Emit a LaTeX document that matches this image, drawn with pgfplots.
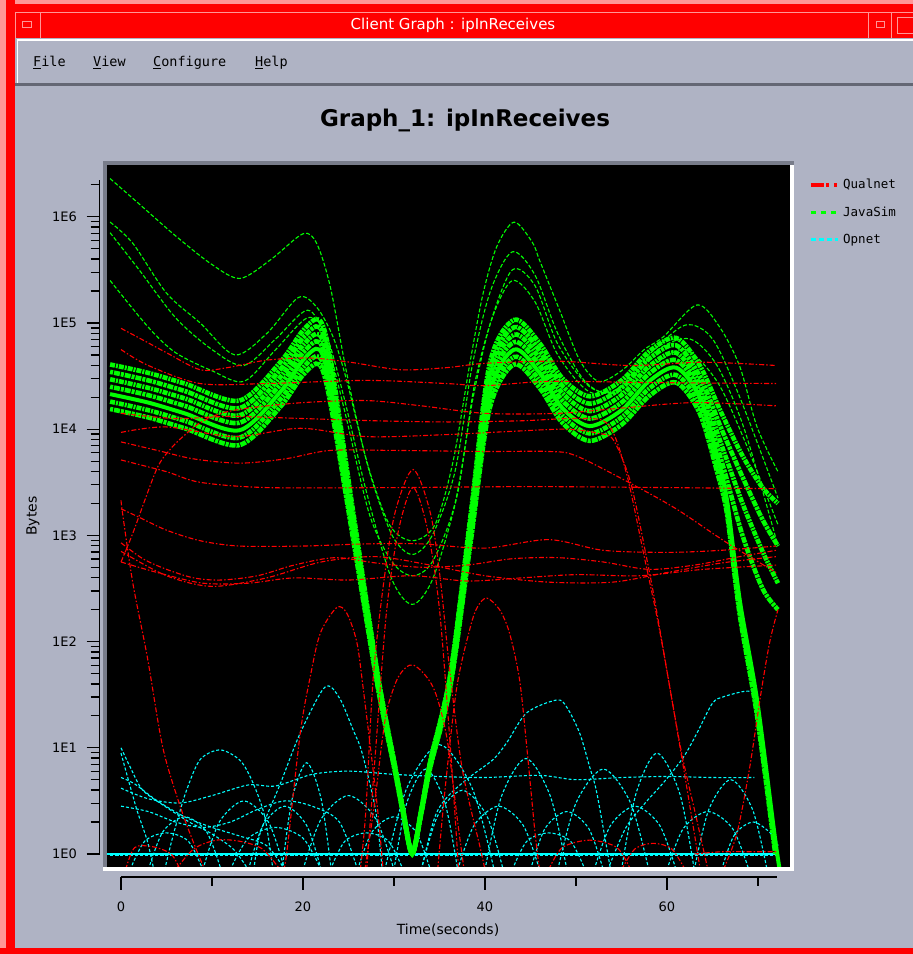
\documentclass[border=0pt]{standalone}
\usepackage{fontspec}
\setmainfont{DejaVu Sans}
\newfontfamily\monofont{DejaVu Sans Mono}
\usepackage{pgfplots}
\pgfplotsset{compat=1.18}
\definecolor{winbg}{RGB}{175,179,196}
\definecolor{winred}{RGB}{255,0,0}
\definecolor{winpink}{RGB}{255,150,150}
\definecolor{menudark}{RGB}{100,103,116}
\definecolor{bevel}{RGB}{120,124,138}
\definecolor{qred}{RGB}{255,0,0}
\definecolor{jgreen}{RGB}{0,255,0}
\definecolor{ocyan}{RGB}{0,255,255}
\pgfplotsset{
  qual/.style={qred, line width=1.1pt, dash pattern=on 5pt off 2pt on 1.5pt off 2pt, smooth},
  java/.style={jgreen, line width=1.1pt, dash pattern=on 4pt off 2pt, smooth},
  band/.style={jgreen, line width=4.6pt, dash pattern=on 5pt off 1pt on 2pt off 1pt, smooth},
  bandb/.style={jgreen, line width=4.6pt, dash pattern=on 3pt off 1pt on 6pt off 1pt, smooth},
  opn/.style={ocyan, line width=1.1pt, dash pattern=on 3pt off 2pt, smooth},
  every outer x axis line/.append style={-},
  every outer y axis line/.append style={-},
  every inner x axis line/.append style={-},
  every inner y axis line/.append style={-},
}
\begin{document}
\begin{tikzpicture}[x=1pt,y=1pt]
\useasboundingbox (0,0) rectangle (913,954);
% ---------- window chrome ----------
\fill[winbg] (0,0) rectangle (913,954);
\fill[winred] (0,916) rectangle (913,954);
\fill[winpink] (0,950) rectangle (913,954);
\fill[winred] (6,0) rectangle (15,954);
\fill[winpink] (0,0) rectangle (6,954);
\fill[winred] (0,0) rectangle (913,6);
\draw[winpink, line width=1pt] (15,941.5) -- (913,941.5);
\draw[winpink, line width=1pt] (15,916) -- (15,941.5);
\draw[winpink, line width=1pt] (40,916) -- (40,941.5);
\draw[winpink, line width=0.8pt] (22,927) rectangle (31,933);
\draw[winpink, line width=1pt] (868,916) -- (868,941.5);
\draw[winpink, line width=1pt] (891,916) -- (891,941.5);
\draw[winpink, line width=0.8pt] (876,927) rectangle (884,933);
\draw[winpink, line width=0.8pt] (897,921) rectangle (913,937);
\node[text=white, font=\fontsize{15}{17}\selectfont] at (453,929) {Client Graph : ipInReceives};
% menu bar
\fill[winbg] (15,870) rectangle (913,915);
\draw[white, line width=1.5pt] (17,914.2) -- (913,914.2);
\draw[white, line width=1.5pt] (17.7,870) -- (17.7,914.2);
\fill[menudark] (15,868) rectangle (913,871);
\begin{scope}[every node/.style={anchor=base west, font=\monofont\fontsize{13.5}{15}\selectfont, inner sep=0pt}]
\node at (33,887.5) {\underline{F}ile};
\node at (93,887.5) {\underline{V}iew};
\node at (153,887.5) {\underline{C}onfigure};
\node at (255,887.5) {\underline{H}elp};
\end{scope}
% plot area
\fill[bevel] (103,87) rectangle (107,793);
\fill[bevel] (103,789) rectangle (794,793);
\fill[white] (790,83) rectangle (794,789);
\fill[white] (103,83) rectangle (794,87);
\fill[black] (107,87) rectangle (790,789);
% ---------- main axis ----------
\begin{axis}[
  at={(107pt,87pt)}, anchor=south west,
  scale only axis, width=683pt, height=702pt,
  xmin=-1.54, xmax=73.52, ymode=log, ymin=0.7545, ymax=3.074e6,
  hide axis, clip=true,
  legend style={at={(1.0278,0.985)}, anchor=north west, draw=none, fill=none,
    font=\monofont\fontsize{12.5}{14}\selectfont, row sep=9.5pt, inner sep=0pt,
    nodes={inner sep=3.5pt}},
  legend cell align=left,
  legend image code/.code={\draw[#1] (0pt,0pt) -- (27pt,0pt);},
]
\addlegendimage{qred, line width=3.5pt, dash pattern=on 13pt off 2.5pt on 3pt off 4.5pt on 3pt off 10pt}
\addlegendimage{jgreen, line width=3.5pt, dash pattern=on 5pt off 5pt}
\addlegendimage{ocyan, line width=3.5pt, dash pattern=on 5pt off 3pt}
\legend{Qualnet,JavaSim,Opnet}
% ===== Opnet (cyan) =====
\addplot[ocyan, line width=1.6pt] coordinates {(-1.5,1) (72.2,1)};
\addplot[opn] coordinates {(-1.2,0.96) (72.2,0.96)};
\addplot[opn] coordinates {(14.6,0.71) (15.3,1.58) (17.5,4.57) (19.7,13.8) (22.4,37.2) (24,29.5) (25.5,14.8) (26.5,8.91) (28,2.51) (28.7,0.71)};
\addplot[opn] coordinates {(33,0.71) (34.5,2.24) (36,3.55) (38.4,5.37) (40.9,7.76) (42.4,11.2) (44.6,21.4) (47.9,28.2) (49,24.0) (50.4,13.8) (51.5,6.61) (52.3,3.72) (53.8,0.71)};
\addplot[opn] coordinates {(0,4.17) (3,3.31) (6.5,3.02) (10,3.55) (14,4.47) (17,4.37) (21,5.62) (25,6.03) (30,5.62) (35,5.37) (40,5.25) (46,5.50) (50,5.01) (55,5.25) (60,5.37) (65,5.25) (69.6,5.25)};
\addplot[opn] coordinates {(53.5,0.71) (55.5,1.78) (57.8,3.16) (59.6,4.68) (61.8,8.13) (63.3,13.8) (65,26.3) (66.2,30.2) (68.4,33.9) (69.6,33.9)};
\addplot[opn] coordinates {(4.8,0.71) (5.5,1.26) (6.2,2.09) (7.2,3.98) (8.7,7.76) (10.9,9.55) (13.1,7.59) (14.5,4.68) (15.8,2.24) (16.7,0.71)};
\addplot[opn] coordinates {(0,10) (1,6.61) (2.4,3.98) (5,2.75) (7.5,2.0) (9.8,1.58) (12.3,1.12) (14,0.71)};
\addplot[opn] coordinates {(0,5.25) (1.5,4.57) (4,3.16) (7,2.24) (10,1.78) (13,1.48) (16,1.20) (18,0.71)};
\addplot[opn] coordinates {(0,8.91) (0.8,5.01) (1.8,2.51) (2.9,1.32) (3.6,0.71)};
\addplot[opn] coordinates {(0,2.82) (3,2.51) (6,2.0) (9,1.78) (12,2.0) (15,2.63) (18,3.16) (21,2.82) (24,2.0) (26,0.71)};
\addplot[opn] coordinates {(3,0.71) (4.6,1.62) (7,2.24) (9.4,1.62) (11,0.71)};
\addplot[opn] coordinates {(9,0.71) (10.8,2.0) (13.5,3.16) (16.2,2.0) (18,0.71)};
\addplot[opn] coordinates {(17.7,0.71) (18.8,3.28) (20.4,7.24) (22.0,3.28) (23.1,0.71)};
\addplot[opn] coordinates {(20,0.71) (22,2.14) (25,3.55) (28,2.14) (30,0.71)};
\addplot[opn] coordinates {(26,0.71) (27.6,1.62) (30,2.24) (32.4,1.62) (34,0.71)};
\addplot[opn] coordinates {(29,0.71) (31.4,4.15) (35,10.7) (38.6,4.15) (41,0.71)};
\addplot[opn] coordinates {(33,0.71) (34.8,2.29) (37.5,3.98) (40.2,2.29) (42,0.71)};
\addplot[opn] coordinates {(37,0.71) (38.8,1.86) (41.5,2.82) (44.2,1.86) (46,0.71)};
\addplot[opn] coordinates {(40,0.71) (41.8,3.47) (44.5,7.94) (47.2,3.47) (49,0.71)};
\addplot[opn] coordinates {(45,0.71) (46.6,1.74) (49,2.51) (51.4,1.74) (53,0.71)};
\addplot[opn] coordinates {(48,0.71) (50,3.02) (53,6.31) (56,3.02) (58,0.71)};
\addplot[opn] coordinates {(52,0.71) (53.8,1.86) (56.5,2.82) (59.2,1.86) (61,0.71)};
\addplot[opn] coordinates {(55,0.71) (56.6,3.72) (58.9,8.91) (61.4,3.72) (63,0.71)};
\addplot[opn] coordinates {(60,0.71) (61.8,1.74) (64.5,2.51) (67.2,1.74) (69,0.71)};
\addplot[opn] coordinates {(63,0.71) (64.6,2.63) (67,5.01) (69.4,2.63) (71,0.71)};
\addplot[opn] coordinates {(66,0.71) (67.4,1.51) (69.5,2.0) (71.6,1.51) (72.2,1.2)};
\addplot[opn] coordinates {(1,0.71) (2.6,1.32) (5,1.58) (7.4,1.32) (9,0.71)};
\addplot[opn] coordinates {(12,0.71) (14,1.41) (17,1.78) (20,1.41) (22,0.71)};
\addplot[opn] coordinates {(23,0.71) (24.6,1.32) (27,1.58) (29.4,1.32) (31,0.71)};
\addplot[opn] coordinates {(43,0.71) (44.6,1.32) (47,1.58) (49.4,1.32) (51,0.71)};
\addplot[opn] coordinates {(30,0.71) (31.4,3.02) (33.5,6.31) (35.6,3.02) (37,0.71)};
\addplot[opn] coordinates {(14,0.71) (15.6,1.86) (18,2.82) (20.4,1.86) (22,0.71)};
% ===== JavaSim (green) outer curves =====
\addplot[java] coordinates {(-1.2,2.29e6) (2,1.32e6) (6,6.61e5) (10,3.55e5) (13.1,2.63e5) (16.5,3.98e5) (20,6.92e5) (21.5,5.62e5) (23,2.19e5) (24.8,3.39e4) (27,5.01e3) (29.5,1.26e3) (32,891) (34.5,1.26e3) (36.5,5.01e3) (38.4,4.47e4) (39.8,1.91e5) (41.3,5.25e5) (43.2,8.91e5) (45.2,5.75e5) (46,3.89e5) (48.2,1.32e5) (50.4,4.47e4) (52.5,2.82e4) (55,3.55e4) (57.5,5.62e4) (59.6,7.41e4) (63.3,1.48e5) (65.8,9.12e4) (68,3.89e4) (69.9,1.05e4) (72.2,3.98e3)};
\addplot[java] coordinates {(-1.2,8.91e5) (1.3,5.62e5) (5,1.91e5) (8.7,1.0e5) (12.5,5.01e4) (16,7.94e4) (19.5,1.74e5) (21.5,1.41e5) (23.3,7.41e4) (24.8,2.88e4) (27.3,3.98e3) (29.8,1.0e3) (32,661) (34.2,1.0e3) (36.7,3.98e3) (38.6,3.98e4) (40.6,2.0e5) (43,4.68e5) (45.5,2.82e5) (48,7.94e4) (51,2.82e4) (54,2.24e4) (58,5.01e4) (62,9.55e4) (65,7.08e4) (68,2.0e4) (72.2,2.24e3)};
\addplot[java] coordinates {(-1.2,2.51e5) (3,9.12e4) (6,5.25e4) (10,3.55e4) (13.5,2.82e4) (17,5.62e4) (20.5,1.12e5) (22.5,7.94e4) (24.5,2.0e4) (27,2.51e3) (29.7,398) (32,224) (34.3,398) (37,2.51e3) (38.8,2.51e4) (40.8,1.12e5) (43,2.51e5) (45.5,1.58e5) (48,5.01e4) (51.5,2.24e4) (55,2.51e4) (59,5.62e4) (62.5,7.08e4) (65.5,3.98e4) (68.5,1.0e4) (72.2,794)};
\addplot[java] coordinates {(-1.2,7.08e5) (2,3.16e5) (6,1.12e5) (10,5.62e4) (13.5,3.98e4) (17,7.08e4) (20.5,1.32e5) (22.5,7.08e4) (24.5,1.58e4) (27.3,1.58e3) (29.8,562) (32,417) (34.2,562) (36.7,2.0e3) (38.7,2.0e4) (40.6,1.0e5) (43,3.16e5) (45.5,2.24e5) (48,6.31e4) (51.5,2.51e4) (55,2.24e4) (58.5,3.98e4) (62,5.62e4) (65.5,2.82e4) (68.5,7.94e3) (72.2,1.26e3)};
% ===== JavaSim band =====
\addplot[band] coordinates {(-1.2,4.07e4) (3,3.39e4) (7,2.69e4) (13,1.86e4) (17.5,4.27e4) (20,8.51e4) (21.8,1.07e5) (23,4.68e4) (25.5,1.70e3) (28.2,50.1) (30,7.59) (31,2.63) (32,1.02) (33,2.63) (34,7.59) (36.2,50.1) (38.4,1.51e3) (40.5,4.07e4) (43.2,1.07e5) (46,6.46e4) (48.5,3.02e4) (51.5,2.04e4) (55,2.88e4) (58,5.37e4) (61,7.24e4) (63.6,3.98e4) (66,1.41e4) (68.3,5.62e3) (70.5,2.82e3) (72.2,2.0e3)};
\addplot[bandb] coordinates {(-1.2,3.47e4) (3,2.88e4) (7,2.29e4) (13,1.58e4) (17.5,3.63e4) (20,7.24e4) (21.8,9.12e4) (23,3.98e4) (25.5,1.51e3) (28.2,47.9) (30,7.41) (31,2.57) (32,1.02) (33,2.57) (34,7.41) (36.2,47.9) (38.4,1.35e3) (40.5,3.47e4) (43.2,9.12e4) (46,5.50e4) (48.5,2.57e4) (51.5,1.74e4) (55,2.45e4) (58,4.57e4) (61,6.17e4) (63.6,3.16e4) (66,1.0e4) (68.3,3.55e3) (70.5,1.41e3) (72.2,794)};
\addplot[band] coordinates {(-1.2,2.95e4) (3,2.45e4) (7,1.95e4) (13,1.35e4) (17.5,3.09e4) (20,6.17e4) (21.8,7.76e4) (23,3.39e4) (25.5,1.38e3) (28.2,45.7) (30,7.24) (31,2.57) (32,1.0) (33,2.57) (34,7.24) (36.2,45.7) (38.4,1.23e3) (40.5,2.95e4) (43.2,7.76e4) (46,4.68e4) (48.5,2.19e4) (51.5,1.48e4) (55,2.09e4) (58,3.89e4) (61,5.25e4) (63.6,2.63e4) (66,7.08e3) (68.3,2.0e3) (70.5,708) (72.2,355)};
\addplot[bandb] coordinates {(-1.2,2.51e4) (3,2.09e4) (7,1.66e4) (13,1.15e4) (17.5,2.63e4) (20,5.25e4) (21.8,6.61e4) (23,2.88e4) (25.5,1.26e3) (28.2,43.7) (30,7.08) (31,2.51) (32,1.0) (33,2.51) (34,7.08) (36.2,43.7) (38.4,1.12e3) (40.5,2.51e4) (43.2,6.61e4) (46,3.98e4) (48.5,1.86e4) (51.5,1.26e4) (55,1.78e4) (58,3.31e4) (61,4.47e4) (63.6,2.24e4) (66,5.01e3) (68.3,1.0e3) (70.5,316) (72.2,200)};
\addplot[band] coordinates {(-1.2,1.82e4) (3,1.51e4) (7,1.20e4) (13,8.32e3) (17.5,1.91e4) (20,3.80e4) (21.8,4.79e4) (23,2.09e4) (25.5,1.05e3) (28.2,39.8) (30,6.76) (31,2.45) (32,1.0) (33,2.45) (34,6.76) (36.2,39.8) (38.4,933) (40.5,1.82e4) (43.2,4.79e4) (46,2.88e4) (48.5,1.35e4) (51.5,9.12e3) (55,1.29e4) (58,2.40e4) (61,3.24e4) (63.6,1.66e4) (65.5,4.47e3) (66.6,1.78e3) (68,200) (69.9,22.4) (71.9,1.12)};
\addplot[bandb] coordinates {(-1.2,1.55e4) (3,1.29e4) (7,1.02e4) (13,7.08e3) (17.5,1.62e4) (20,3.24e4) (21.8,4.07e4) (23,1.78e4) (25.5,933) (28.2,38.0) (30,6.61) (31,2.40) (32,1.0) (33,2.40) (34,6.61) (36.2,38.0) (38.4,832) (40.5,1.55e4) (43.2,4.07e4) (46,2.45e4) (48.5,1.15e4) (51.5,7.76e3) (55,1.10e4) (58,2.04e4) (61,2.75e4) (63.6,1.41e4) (65.5,3.98e3) (66.6,1.58e3) (68,178) (69.9,20) (71.9,1.0)};
\addplot[jgreen, line width=4pt, smooth] coordinates {(-1.2,2.14e4) (3,1.78e4) (7,1.41e4) (13,9.77e3) (17.5,2.24e4) (20,4.47e4) (21.8,5.62e4) (23,2.45e4) (25.5,1.15e3) (28.2,41.7) (30,6.92) (31,2.45) (32,1.0) (33,2.45) (34,6.92) (36.2,41.7) (38.4,1.02e3) (40.5,2.14e4) (43.2,5.62e4) (46,3.39e4) (48.5,1.58e4) (51.5,1.07e4) (55,1.51e4) (58,2.82e4) (61,3.80e4) (63.6,2.0e4) (65.5,5.62e3) (66.6,2.14e3) (68,245) (69.9,28.2) (71.9,1.35) (72.5,0.63)};
% ===== Qualnet (red) =====
\addplot[qual] coordinates {(0,8.91e4) (2.4,6.92e4) (5,5.25e4) (8.7,3.63e4) (11.7,3.80e4) (16,4.47e4) (20.8,4.68e4) (25.2,4.27e4) (30.7,3.63e4) (35.8,3.80e4) (40,4.17e4) (48,4.37e4) (56,3.98e4) (64,4.27e4) (72,3.98e4)};
\addplot[qual] coordinates {(0,5.62e4) (3,3.98e4) (8.7,2.69e4) (16,2.69e4) (27,2.88e4) (35.8,2.69e4) (40,2.57e4) (47,2.82e4) (58,2.75e4) (72,2.69e4)};
\addplot[qual] coordinates {(0,562) (1.3,1.05e3) (3.9,4.17e3) (5.4,6.46e3) (6.8,8.51e3) (8.7,1.15e4) (11,1.41e4) (14,1.58e4) (20,1.78e4) (27,1.86e4) (33,1.66e4) (40,1.41e4) (48,1.41e4) (55,1.58e4) (63,1.78e4) (72,1.66e4)};
\addplot[qual] coordinates {(0,9.33e3) (5,1.05e4) (12.5,8.51e3) (19.7,1.02e4) (27,8.51e3) (36,8.91e3) (43,9.55e3) (49,1.0e4) (52.5,9.12e3) (54.1,7.94e3) (56,3.16e3) (57.8,589) (58.9,186) (61.8,6.61) (63.6,0.76)};
\addplot[qual] coordinates {(0,5.13e3) (5,3.98e3) (8.7,3.16e3) (16,2.82e3) (30,2.82e3) (45,2.88e3) (60,2.82e3) (72,2.75e3)};
\addplot[qual] coordinates {(0,7.59e3) (4,6.31e3) (8,5.25e3) (13,4.79e3) (18,5.25e3) (23,6.31e3) (30,6.31e3) (40,6.17e3) (47,6.17e3) (50,5.62e3) (56,3.09e3) (61,1.78e3) (66.6,851) (72,447)};
\addplot[qual] coordinates {(0,1.41e4) (6,1.26e4) (12,1.32e4) (20,1.26e4) (28,1.20e4) (36,1.17e4) (44,1.20e4) (50,1.26e4) (53.5,1.12e4) (55.5,3.98e3) (57.5,631) (59.2,126) (61.5,10) (63.2,2.24) (64.5,0.71)};
\addplot[qual] coordinates {(0,1.78e3) (2,1.48e3) (5,1.12e3) (8.7,891) (13,794) (20,794) (27,832) (33,832) (40,759) (47,912) (53,724) (60,692) (66,724) (72,794)};
\addplot[qual] coordinates {(0,851) (2.4,603) (5,479) (8,398) (11,380) (15,417) (19,525) (23.5,617) (28,550) (33,501) (38,525) (43,603) (48,617) (53,562) (58,479) (63,525) (68,631) (72,724)};
\addplot[qual] coordinates {(0,562) (4,447) (9,355) (14,355) (19,398) (25,380) (32,417) (38,372) (44,398) (50,427) (57,417) (64,479) (72,525)};
\addplot[qual] coordinates {(0,708) (5,417) (10,331) (16,398) (22,562) (28,631) (34,525) (40,417) (47,363) (54,363) (60,447) (66,550) (72,631)};
\addplot[qual] coordinates {(0,2.14e3) (0.2,1.55e3) (1.3,355) (2.9,70.8) (4.6,10) (6.5,2.82) (8,1.26) (9.2,0.71)};
\addplot[qual] coordinates {(17.8,0.71) (18.2,1.0) (19.7,13.8) (20.8,46.8) (21.9,120) (23.7,209) (24.8,186) (25.9,100) (26.6,37.2) (28.1,3.16) (28.8,0.71)};
\addplot[qual] coordinates {(26.3,0.71) (26.9,2.51) (27.7,43.7) (28.8,324) (30.1,1.62e3) (32.1,4.17e3) (34,1.62e3) (35.1,380) (36.1,56.2) (37.5,6.31) (39.5,1.12) (40,0.71)};
\addplot[qual] coordinates {(27,0.71) (28,10) (29.2,200) (30.5,1.12e3) (32.1,2.82e3) (33.7,1.12e3) (35,200) (36.2,10) (37.1,0.71)};
\addplot[qual] coordinates {(26.8,0.71) (27.9,3.16) (28.7,11.7) (29.3,24.0) (30.5,46.8) (32.1,60.3) (34.3,37.2) (35.8,12.6) (37,2.0) (37.7,0.71)};
\addplot[qual] coordinates {(34.8,0.71) (35.6,3.98) (36.9,37.2) (38.4,138) (39.2,214) (40.2,257) (41.6,200) (42.7,120) (43.8,43.7) (44.6,10) (45.5,1.58) (46,0.71)};
\addplot[qual] coordinates {(66.2,0.71) (67.7,1.58) (69.1,6.61) (70.3,31.6) (71.3,100) (72.2,200)};
\addplot[qual] coordinates {(0.5,0.71) (1.5,1.15) (3.5,1.17) (5.5,1.0) (6.5,0.71)};
\addplot[qual] coordinates {(6,0.71) (8,1.12) (10.5,1.35) (13,1.32) (15.5,1.12) (17.5,0.71)};
\addplot[qual] coordinates {(47,0.71) (48.5,1.15) (51.5,1.35) (54.5,1.15) (56,0.71)};
\addplot[qual] coordinates {(63,1.0) (66,1.05) (69,1.05) (72.2,1.05)};
\addplot[qual] coordinates {(55,0.71) (56.5,1.12) (58.5,1.26) (60.5,1.12) (62,0.71)};
\end{axis}
% ---------- y ruler ----------
\begin{axis}[
  at={(99.5pt,100pt)}, anchor=south west,
  scale only axis, width=1pt, height=674pt,
  xmin=0, xmax=1, ymode=log, ymin=1, ymax=2.221e6,
  axis y line=left, axis x line=none,
  axis line style={-, black, line width=1.3pt},
  tick align=outside, major tick length=13pt, minor tick length=9pt,
  every tick/.style={black, line width=1.3pt},
  every minor tick/.style={black, line width=1.3pt},
  ytick={1,10,100,1000,10000,100000,1000000},
  yticklabels={1E0,1E1,1E2,1E3,1E4,1E5,1E6},
  minor ytick={2,3,4,5,6,7,8,9,20,30,40,50,60,70,80,90,200,300,400,500,600,700,800,900,2e3,3e3,4e3,5e3,6e3,7e3,8e3,9e3,2e4,3e4,4e4,5e4,6e4,7e4,8e4,9e4,2e5,3e5,4e5,5e5,6e5,7e5,8e5,9e5,2e6},
  tick label style={font=\fontsize{13}{15}\selectfont},
  yticklabel style={xshift=-6pt},
]
\end{axis}
% ---------- x ruler ----------
\begin{axis}[
  at={(121pt,77pt)}, anchor=south west,
  scale only axis, width=656pt, height=1pt,
  xmin=0, xmax=72.09, ymin=0, ymax=1,
  axis x line=bottom, axis y line=none,
  axis line style={-, black, line width=1.3pt},
  tick align=outside, major tick length=13pt, minor tick length=9pt,
  every tick/.style={black, line width=1.3pt},
  every minor tick/.style={black, line width=1.3pt},
  xtick={0,20,40,60}, xticklabels={0,20,40,60},
  minor xtick={10,30,50,70},
  tick label style={font=\fontsize{13}{15}\selectfont},
  xticklabel style={yshift=-8pt},
]
\end{axis}
% ---------- labels ----------
\node[rotate=90, font=\fontsize{14}{16}\selectfont] at (33,438) {Bytes};
\node[font=\fontsize{14}{16}\selectfont] at (448,24) {Time(seconds)};
\node[font=\bfseries\fontsize{23}{26}\selectfont] at (465,834) {Graph\_1: ipInReceives};
\end{tikzpicture}
\end{document}
